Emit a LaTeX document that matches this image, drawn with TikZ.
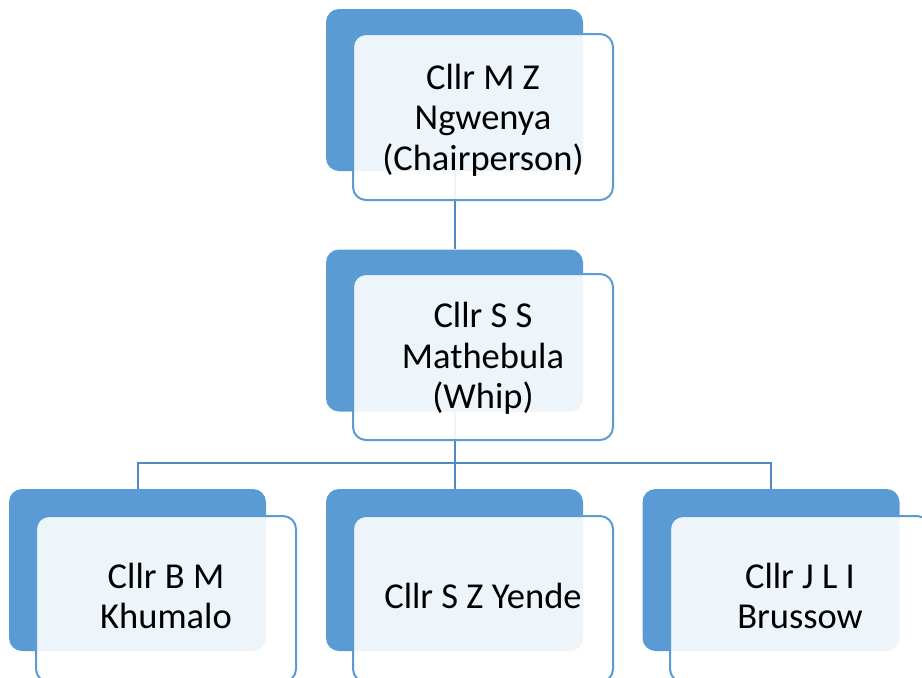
\documentclass[tikz,border=0pt]{standalone}
\usepackage{fontspec}
\setmainfont{Carlito}
\definecolor{officeblue}{HTML}{5B9BD5}
\definecolor{linkblue}{HTML}{5089C6}
\begin{document}
\begin{tikzpicture}[x=1pt,y=-1pt,
  backbox/.style={rectangle, rounded corners=13pt, fill=officeblue,
    minimum width=257pt, minimum height=162pt, inner sep=0pt},
  frontbox/.style={rectangle, rounded corners=13pt, draw=officeblue, line width=2pt,
    fill=white, fill opacity=0.9, text opacity=1, text=black,
    minimum width=260pt, minimum height=166pt, inner sep=0pt, align=center,
    font=\fontsize{36.5pt}{40.5pt}\selectfont},
  lowcard/.style={frontbox, text depth=6pt},
  link/.style={draw=linkblue, line width=2pt}]
\useasboundingbox (0,0) rectangle (922,678);
\clip (0,0) rectangle (922,678);

% shaded back panels
\node[backbox] (tb) at (454.5,90) {};
\node[backbox] (mb) at (454.5,330.5) {};
\node[backbox] (lb) at (137.5,570) {};
\node[backbox] (cb) at (454.5,570) {};
\node[backbox] (rb) at (771,570) {};

% connectors between the panels
\coordinate (bus) at (454.5,463);
\draw[link] (tb.south) -- (mb.north);
\draw[link] (mb.south) -- (bus);
\draw[link] (bus) -| (lb.north);
\draw[link] (bus) -| (rb.north);
\draw[link] (bus) -- (cb.north);

% front cards with names
\node[frontbox, text height=112pt] (top) at (483,117) {Cllr M Z\\Ngwenya\\(Chairperson)};
\node[frontbox, text height=109pt] (mid) at (483,357) {Cllr S S\\Mathebula\\(Whip)};
\node[lowcard] (left) at (166,599) {Cllr B M\\Khumalo};
\node[lowcard] (centre) at (483,599) {Cllr S Z Yende};
\node[lowcard] (right) at (800,599) {Cllr J L I\\Brussow};
\end{tikzpicture}
\end{document}
